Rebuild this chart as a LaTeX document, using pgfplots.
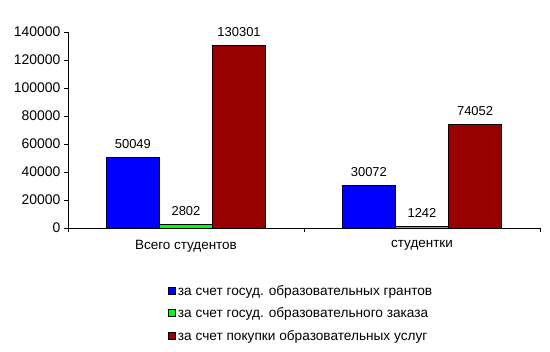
\documentclass[border=0pt]{standalone}
\usepackage{fontspec}
\setmainfont{Liberation Sans}
\usepackage{pgfplots}
\pgfplotsset{compat=1.18}
\definecolor{cblue}{RGB}{0,0,255}
\definecolor{cgreen}{RGB}{0,255,0}
\definecolor{cred}{RGB}{153,0,0}
\pgfkeys{/pgf/number format/.cd, fixed, precision=0, 1000 sep={}, assume math mode=true}
\begin{document}
\begin{tikzpicture}
\useasboundingbox (-68bp,-124bp) rectangle (482bp,228bp);
\begin{axis}[
  at={(0bp,0bp)}, anchor=south west,
  scale only axis, width=472bp, height=196bp,
  xmin=-0.5, xmax=1.5, ymin=0, ymax=140000,
  axis x line*=bottom, axis y line*=left,
  axis line style={black, line width=0.8bp},
  tick align=outside, major tick length=4bp,
  tick style={black, line width=0.8bp},
  xtick={-0.5,0.5,1.5}, xticklabels={},
  extra x ticks={0,1},
  extra x tick labels={Всего студентов, студентки},
  extra x tick style={major tick length=0pt, xticklabel style={yshift=-9bp}},
  ytick={0,20000,40000,60000,80000,100000,120000,140000},
  scaled y ticks=false,
  yticklabel={\pgfmathprintnumber[fixed,precision=0,1000 sep={},assume math mode=true]{\tick}},
  ticklabel style={font=\fontsize{14}{16}\selectfont},
  xticklabel style={font=\fontsize{13.5}{16}\selectfont},
  ybar, bar width=0.225,
  nodes near coords={\pgfmathprintnumber[fixed,precision=0,1000 sep={},assume math mode=true]{\pgfplotspointmeta}},
  nodes near coords style={font=\fontsize{13}{15}\selectfont, anchor=south, yshift=5bp},
  legend style={at={(rel axis cs:0.2055,-0.27)}, anchor=north west, draw=none, fill=none,
    font=\fontsize{13.7}{16}\selectfont, row sep=7bp, legend cell align=left},
  legend image code/.code={\draw[#1, line width=0.8bp] (0bp,-3.5bp) rectangle (7bp,3.5bp);},
]
\addplot[fill=cblue, draw=black, line width=1bp, bar shift=-0.225] coordinates {(0,50049) (1,30072)};
\addplot[fill=cgreen, draw=black, line width=1bp, bar shift=0] coordinates {(0,2802) (1,1242)};
\addplot[fill=cred, draw=black, line width=1bp, bar shift=0.225] coordinates {(0,130301) (1,74052)};
\legend{за счет госуд. образовательных грантов, за счет госуд. образовательного заказа, за счет покупки образовательных услуг}
\end{axis}
\end{tikzpicture}
\end{document}
